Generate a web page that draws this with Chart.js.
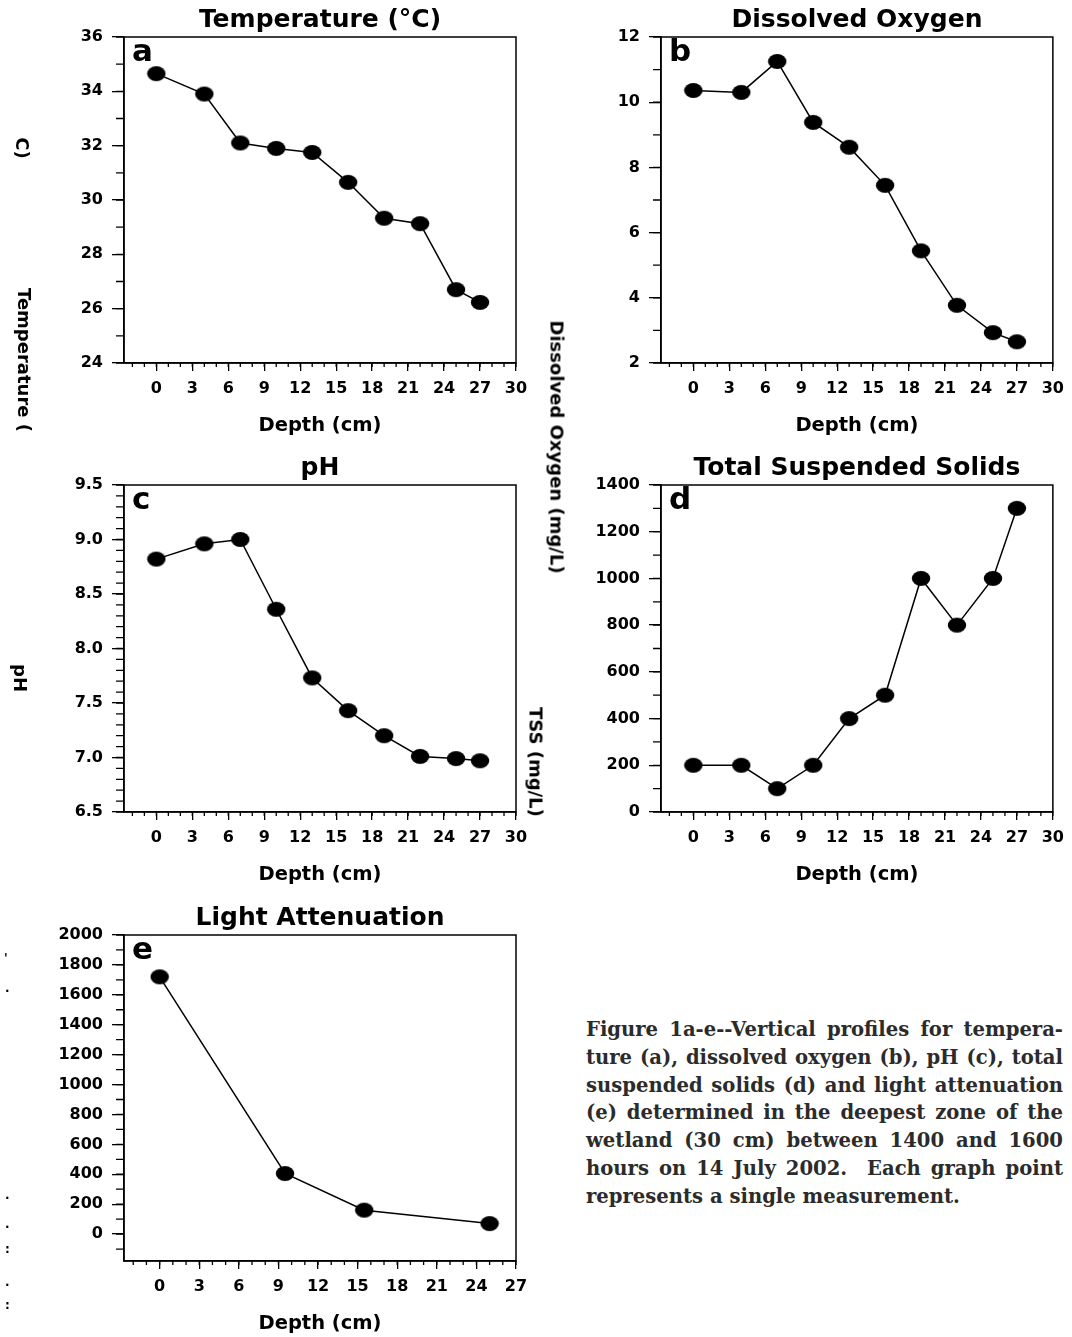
<!DOCTYPE html>
<html lang="en">
  <head>
    <meta charset="UTF-8" />
    <title>Vertical profiles</title>
    <script src="https://cdn.jsdelivr.net/npm/chart.js"></script>
    <style>
      body { margin: 0; background: #fff; }
      #page { position: relative; width: 1072px; height: 1337px; overflow: hidden; background: #fff; }
      canvas { position: absolute; }
      .ylab {
        position: absolute;
        transform: translate(-50%, -50%) rotate(90deg);
        white-space: nowrap;
        font: bold 18px "DejaVu Sans", sans-serif;
        color: #000;
      }
      .speck { position: absolute; font: bold 12px "DejaVu Sans", sans-serif; color: #000; line-height: 1; }
      .caption {
        position: absolute; left: 586px; top: 1016px; width: 477px;
        font: bold 19.6px "DejaVu Serif", serif; color: #2b2b2b; line-height: 27.8px;
      }
      .caption div { white-space: nowrap; text-align: justify; text-align-last: justify; }
      .caption div.last { text-align-last: left; }
    </style>
  </head>
  <body>
    <div id="page">
      <canvas id="chartA" style="left:0;top:0" width="540" height="438"></canvas>
      <canvas id="chartB" style="left:537px;top:0" width="535" height="438"></canvas>
      <canvas id="chartC" style="left:0;top:448px" width="540" height="439"></canvas>
      <canvas id="chartD" style="left:537px;top:448px" width="535" height="439"></canvas>
      <canvas id="chartE" style="left:0;top:898px" width="540" height="438"></canvas>

      <!-- y axis labels, partly cut off in the original -->
      <div class="ylab" style="left:22px;top:148px">C)</div>
      <div class="ylab" style="left:24px;top:360px">Temperature (</div>
      <div class="ylab" style="left:557px;top:447px">Dissolved Oxygen (mg/L)</div>
      <div class="ylab" style="left:20px;top:678px">pH</div>
      <div class="ylab" style="left:536px;top:762px">TSS (mg/L)</div>

      <div class="speck" style="left:4px;top:952px">'</div>
      <div class="speck" style="left:5px;top:982px">.</div>
      <div class="speck" style="left:5px;top:1189px">.</div>
      <div class="speck" style="left:5px;top:1218px">.</div>
      <div class="speck" style="left:5px;top:1243px">:</div>
      <div class="speck" style="left:5px;top:1276px">.</div>
      <div class="speck" style="left:5px;top:1299px">:</div>

      <div class="caption">
        <div>Figure 1a-e--Vertical profiles for tempera-</div>
        <div>ture (a), dissolved oxygen (b), pH (c), total</div>
        <div>suspended solids (d) and light attenuation</div>
        <div>(e) determined in the deepest zone of the</div>
        <div>wetland (30 cm) between 1400 and 1600</div>
        <div>hours on 14 July 2002.&nbsp; Each graph point</div>
        <div class="last">represents a single measurement.</div>
      </div>
    </div>

    <script>
      // data
      const depth = [0, 4, 7, 10, 13, 16, 19, 22, 25, 27];
      const temperature = [34.65, 33.9, 32.1, 31.9, 31.75, 30.65, 29.33, 29.13, 26.7, 26.23];
      const dissolvedOxygen = [10.36, 10.3, 11.25, 9.38, 8.62, 7.45, 5.44, 3.77, 2.93, 2.65];
      const phValues = [8.82, 8.96, 9.0, 8.36, 7.73, 7.43, 7.2, 7.01, 6.99, 6.97];
      const tss = [200, 200, 100, 200, 400, 500, 1000, 800, 1000, 1300];
      const lightDepth = [0, 9.5, 15.5, 25];
      const lightAttenuation = [1720, 405, 160, 70];

      // tick labels
      const depthTicks = [0, 3, 6, 9, 12, 15, 18, 21, 24, 27, 30];
      const lightDepthTicks = [0, 3, 6, 9, 12, 15, 18, 21, 24, 27];
      const tempTicks = [24, 26, 28, 30, 32, 34, 36];
      const doTicks = [2, 4, 6, 8, 10, 12];
      const phTicks = [6.5, 7.0, 7.5, 8.0, 8.5, 9.0, 9.5];
      const tssTicks = [0, 200, 400, 600, 800, 1000, 1200, 1400];
      const lightTicks = [0, 200, 400, 600, 800, 1000, 1200, 1400, 1600, 1800, 2000];

      Chart.defaults.font.family = "'DejaVu Sans', sans-serif";
      Chart.defaults.color = "#000";

      // filled ellipse used as the marker
      const dot = document.createElement("canvas");
      dot.width = 20;
      dot.height = 17;
      const dctx = dot.getContext("2d");
      dctx.fillStyle = "#000";
      dctx.beginPath();
      dctx.ellipse(10, 8.5, 9.2, 7.6, 0, 0, Math.PI * 2);
      dctx.fill();

      // minor ticks, frame and panel letter
      const framePlugin = {
        id: "frame",
        afterDraw(chart, args, opts) {
          const { ctx, chartArea: a, scales } = chart;
          const x = scales.x, y = scales.y;
          ctx.save();
          ctx.strokeStyle = "#000";
          ctx.lineWidth = 1.3;
          ctx.beginPath();
          for (let v = Math.ceil(x.min); v <= x.max + 1e-9; v += opts.xMinor) {
            const px = x.getPixelForValue(v);
            ctx.moveTo(px, a.bottom);
            ctx.lineTo(px, a.bottom + 4);
          }
          const y0 = Math.ceil(y.min / opts.yMinor - 1e-9) * opts.yMinor;
          for (let v = y0; v <= y.max + 1e-9; v += opts.yMinor) {
            const py = y.getPixelForValue(v);
            ctx.moveTo(a.left - 8, py);
            ctx.lineTo(a.left, py);
          }
          ctx.stroke();
          ctx.lineWidth = 1.5;
          ctx.strokeRect(a.left, a.top, a.right - a.left, a.bottom - a.top);
          ctx.fillStyle = "#000";
          ctx.font = "bold 31px 'DejaVu Sans'";
          ctx.textBaseline = "alphabetic";
          ctx.fillText(opts.letter, a.left + 8, a.top + 24);
          ctx.restore();
        },
      };

      function makePanel(id, cfg) {
        const canvas = document.getElementById(id);
        const plotRight = cfg.right - parseInt(canvas.style.left || 0);
        new Chart(canvas, {
          type: "scatter",
          data: {
            datasets: [
              {
                data: cfg.xs.map((x, i) => ({ x, y: cfg.ys[i] })),
                showLine: true,
                borderColor: "#000",
                borderWidth: 1.5,
                pointStyle: dot,
                pointRadius: 9,
                clip: false,
              },
            ],
          },
          plugins: [framePlugin],
          options: {
            responsive: false,
            animation: false,
            devicePixelRatio: 1,
            layout: { padding: { left: 0, top: 0, bottom: 0, right: canvas.width - plotRight } },
            plugins: {
              legend: { display: false },
              tooltip: { enabled: false },
              title: {
                display: true,
                text: cfg.title,
                fullSize: false,
                color: "#000",
                font: { size: 25, weight: "bold", lineHeight: "28px" },
                padding: { top: 6, bottom: 3 },
              },
              frame: { letter: cfg.letter, xMinor: 1, yMinor: cfg.yMinor },
            },
            scales: {
              x: {
                type: "linear",
                min: -2.7,
                max: cfg.xMax,
                afterBuildTicks: (s) => { s.ticks = cfg.xTicks.map((v) => ({ value: v })); },
                afterFit: (s) => { s.height = 75; },
                grid: { drawOnChartArea: false, tickLength: 8, color: "#000", lineWidth: 1.3 },
                border: { color: "#000", width: 1.5 },
                ticks: {
                  autoSkip: false,
                  maxRotation: 0,
                  padding: 8,
                  font: { size: 16, weight: "bold" },
                  callback: (v) => String(v),
                },
                title: {
                  display: true,
                  text: "Depth (cm)",
                  font: { size: 19.5, weight: "bold" },
                  padding: { top: 0, bottom: 0 },
                },
              },
              y: {
                min: cfg.yMin,
                max: cfg.yMax,
                afterBuildTicks: (s) => { s.ticks = cfg.yTicks.map((v) => ({ value: v })); },
                afterFit: (s) => { s.width = 124; },
                grid: { drawOnChartArea: false, tickLength: 12, color: "#000", lineWidth: 1.3 },
                border: { color: "#000", width: 1.5 },
                ticks: {
                  autoSkip: false,
                  padding: 9,
                  font: { size: 16, weight: "bold" },
                  callback: (v) => v.toFixed(cfg.decimals || 0),
                },
              },
            },
          },
        });
      }

      makePanel("chartA", {
        title: "Temperature (\u00B0C)", letter: "a", right: 516,
        xs: depth, ys: temperature, xTicks: depthTicks, xMax: 30,
        yTicks: tempTicks, yMin: 24, yMax: 36, yMinor: 1,
      });
      makePanel("chartB", {
        title: "Dissolved Oxygen", letter: "b", right: 1053,
        xs: depth, ys: dissolvedOxygen, xTicks: depthTicks, xMax: 30,
        yTicks: doTicks, yMin: 2, yMax: 12, yMinor: 1,
      });
      makePanel("chartC", {
        title: "pH", letter: "c", right: 516,
        xs: depth, ys: phValues, xTicks: depthTicks, xMax: 30,
        yTicks: phTicks, yMin: 6.5, yMax: 9.5, yMinor: 0.1, decimals: 1,
      });
      makePanel("chartD", {
        title: "Total Suspended Solids", letter: "d", right: 1053,
        xs: depth, ys: tss, xTicks: depthTicks, xMax: 30,
        yTicks: tssTicks, yMin: 0, yMax: 1400, yMinor: 100,
      });
      makePanel("chartE", {
        title: "Light Attenuation", letter: "e", right: 516,
        xs: lightDepth, ys: lightAttenuation, xTicks: lightDepthTicks, xMax: 27,
        yTicks: lightTicks, yMin: -180, yMax: 2000, yMinor: 100,
      });
    </script>
  </body>
</html>
